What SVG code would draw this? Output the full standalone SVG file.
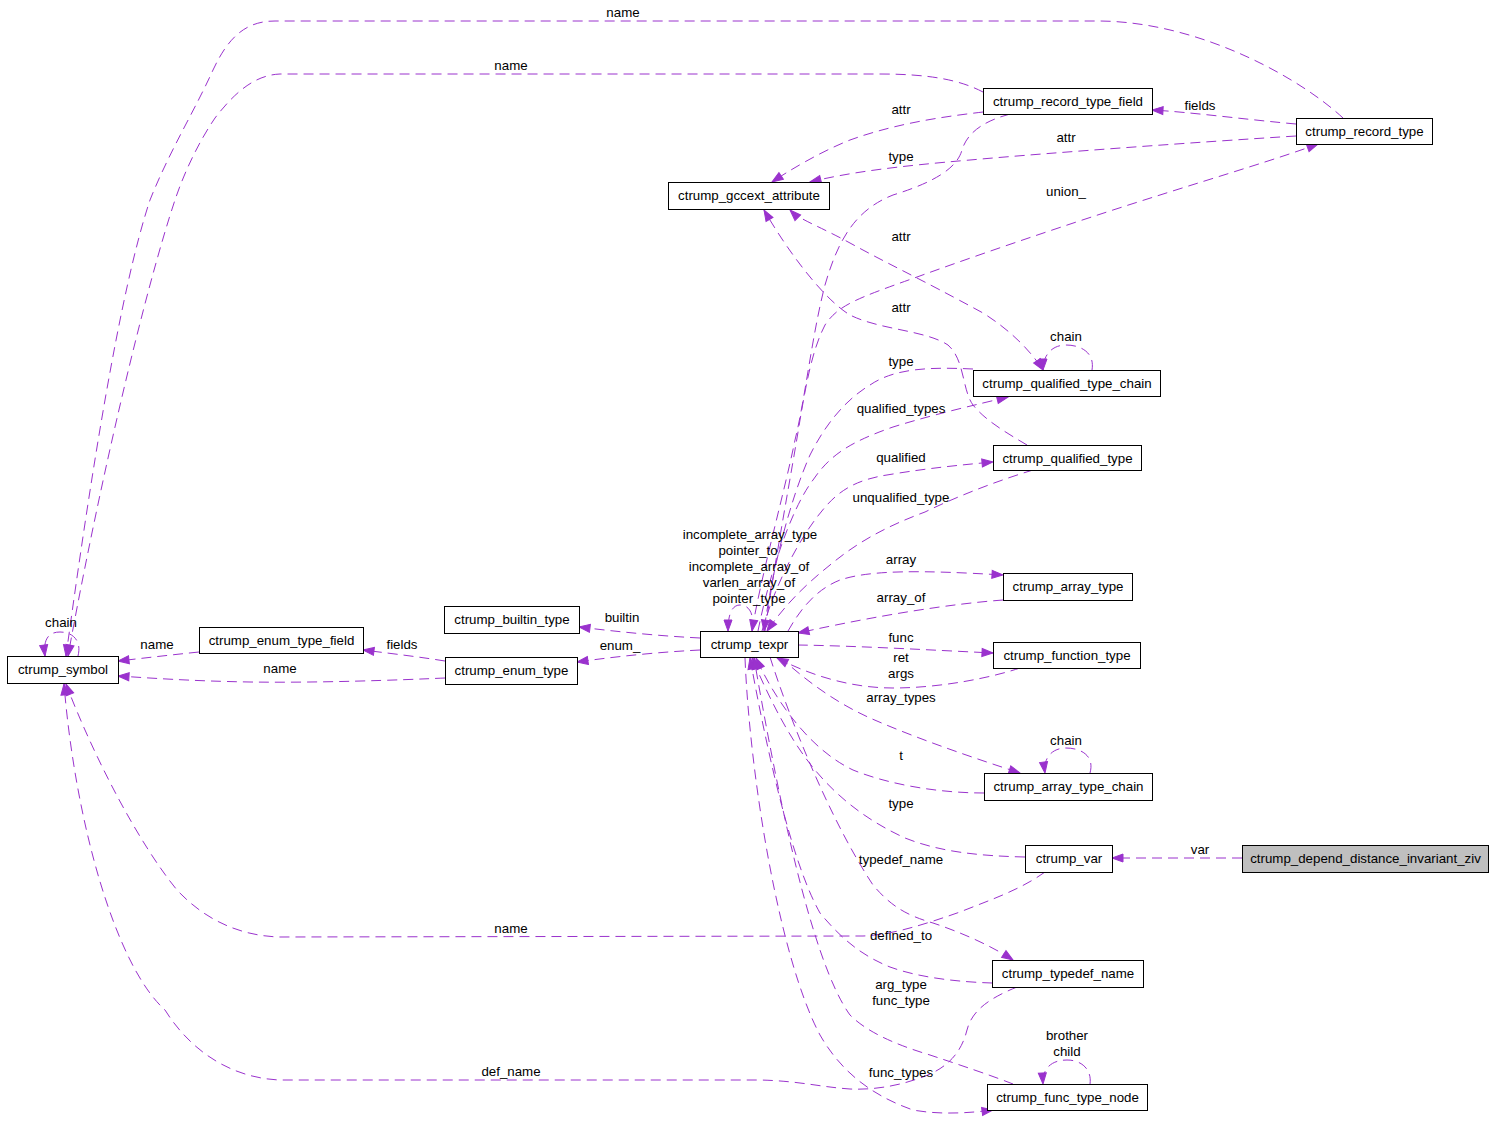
<svg xmlns="http://www.w3.org/2000/svg" width="1493" height="1121" viewBox="0 0 1493 1121">
<defs>
<marker id="ah" markerWidth="11" markerHeight="8" refX="11" refY="4" orient="auto" markerUnits="userSpaceOnUse" overflow="visible"><path d="M0,0 L11,4 L0,8 z" fill="#9a32cd" stroke="#9a32cd" stroke-width="1"/></marker>
<marker id="as" markerWidth="11" markerHeight="8" refX="11" refY="4" orient="auto-start-reverse" markerUnits="userSpaceOnUse" overflow="visible"><path d="M0,0 L11,4 L0,8 z" fill="#9a32cd" stroke="#9a32cd" stroke-width="1"/></marker>
</defs>
<style>
text{font-family:"Liberation Sans",Arial,sans-serif;font-size:13.3px;fill:#000;text-anchor:middle}
.n rect{fill:#fff;stroke:#000;stroke-width:1}
.n rect.g{fill:#bfbfbf}
#edges path{fill:none;stroke:#9a32cd;stroke-width:1;stroke-dasharray:10,6;marker-end:url(#ah)}
#edges path.both{marker-start:url(#as)}
</style>
<rect width="1493" height="1121" fill="#fff"/>
<g id="edges">
<path d="M1343,118 C1300,78 1200,22 1100,21 L275,21 C245,21 228,38 213,70 C195,110 170,150 150,200 C120,290 90,480 66,656"/>
<path d="M983,92 C960,80 930,74 880,74 L280,74 C255,75 235,92 215,118 C200,140 185,170 175,200 C145,290 100,480 68,656"/>
<path d="M1296,124 C1250,120 1190,112 1152,110"/>
<path d="M983,112 C950,116 900,122 850,140 C820,152 790,170 772,182"/>
<path d="M1296,136 C1200,142 1060,152 970,160 C900,166 850,172 810,182"/>
<path d="M1010,114 C988,120 968,130 962,150 C957,168 935,182 893,195 C855,210 838,240 825,285 C812,335 805,400 795,440 C785,490 760,580 752,631"/>
<path d="M765,631 C775,560 792,470 800,420 C806,385 812,350 825,325 C838,305 858,298 917,277 C1000,247 1090,217 1160,195 C1220,176 1280,158 1318,144"/>
<path class="both" d="M790,210 C800,220 817,225 850,243 C890,265 917,277 983,313 C1010,330 1030,350 1043,370"/>
<path d="M1092,370 C1095,352 1080,345 1066,345 C1052,345 1043,355 1043,370"/>
<path d="M1027,445 C1005,432 985,420 973,405 C962,390 965,360 948,345 C925,330 880,330 850,315 C825,300 790,255 764,210"/>
<path d="M973,369 C930,367 895,368 870,385 C845,400 825,425 810,455 C790,500 772,570 764,631"/>
<path d="M758,631 C768,580 790,510 813,480 C830,455 850,442 893,427 C935,414 975,405 1008,397"/>
<path d="M762,631 C775,585 800,535 827,505 C845,485 865,478 893,474 C930,468 960,465 993,462"/>
<path d="M1033,470 C1000,480 960,495 925,512 C890,525 860,540 830,565 C805,585 785,605 767,631"/>
<path d="M788,631 C800,610 815,590 840,580 C870,570 920,570 1003,575"/>
<path d="M1003,600 C950,604 880,615 798,633"/>
<path d="M798,645 C860,646 930,650 993,653"/>
<path d="M1020,668 C990,678 940,688 893,688 C850,688 810,675 777,658"/>
<path d="M780,657 C800,675 830,700 870,718 C920,740 980,760 1020,773"/>
<path d="M984,793 C940,793 890,785 853,770 C815,752 780,710 756,658"/>
<path d="M1090,773 C1095,755 1080,748 1066,748 C1052,748 1043,758 1045,773"/>
<path d="M1025,857 C980,856 940,852 905,838 C870,822 840,800 815,770 C790,740 770,700 752,658"/>
<path d="M1242,858 L1112,858"/>
<path d="M770,657 C790,720 830,820 873,885 C890,905 905,915 933,923 C960,932 990,945 1013,960"/>
<path d="M992,983 C960,982 920,978 890,967 C860,955 840,937 820,913 C790,860 765,740 750,658"/>
<path d="M1045,872 C1020,890 990,900 960,912 C920,926 890,935 863,936 L280,937 C240,936 205,920 177,890 C140,845 95,760 66,684"/>
<path d="M1017,987 C990,998 972,1010 967,1030 C962,1050 950,1068 920,1078 C895,1087 870,1090 850,1089 C820,1087 800,1081 760,1080 L280,1080 C230,1078 190,1050 165,1010 C115,965 75,820 64,684"/>
<path d="M1013,1084 C990,1075 960,1065 930,1055 C890,1043 865,1030 850,1015 C810,960 775,780 754,658"/>
<path d="M745,658 C750,780 780,960 820,1035 C840,1070 870,1095 913,1110 C940,1115 970,1113 993,1110"/>
<path d="M1090,1084 C1092,1070 1082,1060 1067,1060 C1052,1060 1042,1068 1043,1084"/>
<path d="M752,631 C755,612 748,605 740,605 C733,605 728,612 728,631"/>
<path d="M78,656 C82,640 72,632 60,632 C48,632 43,640 45,656"/>
<path d="M199,652 C170,655 145,658 118,661"/>
<path d="M445,678 C400,680 320,683 250,682 C190,681 150,678 118,676"/>
<path d="M445,661 C420,657 395,654 363,650"/>
<path d="M700,638 C660,636 620,632 579,627"/>
<path d="M700,650 C660,652 620,656 577,662"/>
</g>
<g id="edge-labels">
<text x="623" y="17">name</text>
<text x="511" y="70">name</text>
<text x="1200" y="110">fields</text>
<text x="901" y="114">attr</text>
<text x="1066" y="142">attr</text>
<text x="901" y="161">type</text>
<text x="1066" y="196">union_</text>
<text x="901" y="241">attr</text>
<text x="901" y="312">attr</text>
<text x="1066" y="341">chain</text>
<text x="901" y="366">type</text>
<text x="901" y="413">qualified_types</text>
<text x="901" y="462">qualified</text>
<text x="901" y="502">unqualified_type</text>
<text x="750" y="539">incomplete_array_type</text>
<text x="748" y="555">pointer_to</text>
<text x="749" y="571">incomplete_array_of</text>
<text x="749" y="587">varlen_array_of</text>
<text x="749" y="603">pointer_type</text>
<text x="901" y="564">array</text>
<text x="901" y="602">array_of</text>
<text x="622" y="622">builtin</text>
<text x="620" y="650">enum_</text>
<text x="157" y="649">name</text>
<text x="402" y="649">fields</text>
<text x="280" y="673">name</text>
<text x="61" y="627">chain</text>
<text x="901" y="642">func</text>
<text x="901" y="662">ret</text>
<text x="901" y="678">args</text>
<text x="901" y="702">array_types</text>
<text x="1066" y="745">chain</text>
<text x="901" y="760">t</text>
<text x="901" y="808">type</text>
<text x="1200" y="854">var</text>
<text x="901" y="864">typedef_name</text>
<text x="511" y="933">name</text>
<text x="901" y="940">defined_to</text>
<text x="901" y="989">arg_type</text>
<text x="901" y="1005">func_type</text>
<text x="1067" y="1040">brother</text>
<text x="1067" y="1056">child</text>
<text x="511" y="1076">def_name</text>
<text x="901" y="1077">func_types</text>
</g>
<g id="n_symbol" class="n"><rect x="7.5" y="656.5" width="111" height="27"/><text x="63" y="674">ctrump_symbol</text></g>
<g id="n_enum_type_field" class="n"><rect x="199.5" y="627.5" width="164" height="26"/><text x="281.5" y="645">ctrump_enum_type_field</text></g>
<g id="n_builtin_type" class="n"><rect x="444.5" y="606.5" width="135" height="27"/><text x="512" y="624">ctrump_builtin_type</text></g>
<g id="n_enum_type" class="n"><rect x="445.5" y="657.5" width="132" height="27"/><text x="511.5" y="675">ctrump_enum_type</text></g>
<g id="n_texpr" class="n"><rect x="700.5" y="631.5" width="98" height="26"/><text x="749.5" y="649">ctrump_texpr</text></g>
<g id="n_gccext_attribute" class="n"><rect x="668.5" y="182.5" width="161" height="27"/><text x="749" y="200">ctrump_gccext_attribute</text></g>
<g id="n_record_type_field" class="n"><rect x="983.5" y="88.5" width="169" height="26"/><text x="1068" y="106">ctrump_record_type_field</text></g>
<g id="n_record_type" class="n"><rect x="1296.5" y="118.5" width="136" height="26"/><text x="1364.5" y="136">ctrump_record_type</text></g>
<g id="n_qualified_type_chain" class="n"><rect x="973.5" y="370.5" width="187" height="26"/><text x="1067" y="388">ctrump_qualified_type_chain</text></g>
<g id="n_qualified_type" class="n"><rect x="993.5" y="445.5" width="148" height="25"/><text x="1067.5" y="462.5">ctrump_qualified_type</text></g>
<g id="n_array_type" class="n"><rect x="1003.5" y="573.5" width="129" height="27"/><text x="1068" y="591">ctrump_array_type</text></g>
<g id="n_function_type" class="n"><rect x="993.5" y="642.5" width="147" height="26"/><text x="1067" y="660">ctrump_function_type</text></g>
<g id="n_array_type_chain" class="n"><rect x="984.5" y="773.5" width="168" height="27"/><text x="1068.5" y="791">ctrump_array_type_chain</text></g>
<g id="n_var" class="n"><rect x="1025.5" y="845.5" width="87" height="27"/><text x="1069" y="863">ctrump_var</text></g>
<g id="n_depend" class="n"><rect class="g" x="1242.5" y="845.5" width="246" height="27"/><text x="1365.5" y="863">ctrump_depend_distance_invariant_ziv</text></g>
<g id="n_typedef_name" class="n"><rect x="992.5" y="960.5" width="151" height="27"/><text x="1068" y="978">ctrump_typedef_name</text></g>
<g id="n_func_type_node" class="n"><rect x="987.5" y="1084.5" width="160" height="26"/><text x="1067.5" y="1102">ctrump_func_type_node</text></g>
</svg>
